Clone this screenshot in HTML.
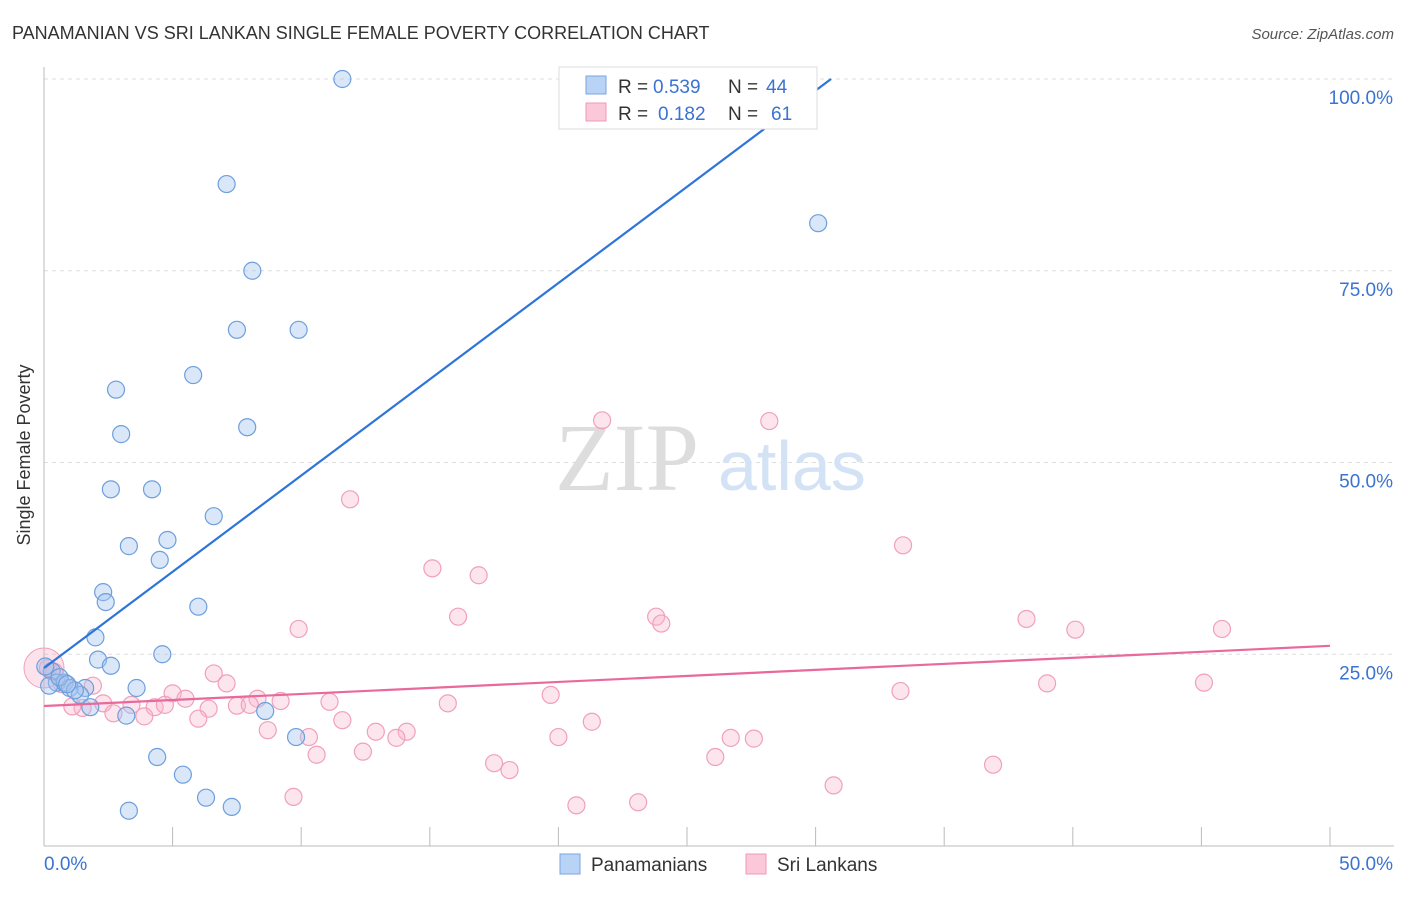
<!DOCTYPE html>
<html><head><meta charset="utf-8"><style>
body{margin:0;background:#fff;font-family:"Liberation Sans",sans-serif}
svg text{font-family:"Liberation Sans",sans-serif}
</style></head><body>
<svg width="1406" height="892" xmlns="http://www.w3.org/2000/svg">
<text x="12" y="39" font-size="18" fill="#333">PANAMANIAN VS SRI LANKAN SINGLE FEMALE POVERTY CORRELATION CHART</text>
<text x="1394" y="39" font-size="15" fill="#555" text-anchor="end" font-style="italic">Source: ZipAtlas.com</text>
<g id="grid"></g>
<text x="555" y="490" font-size="96" fill="#ddd" style="font-family:'Liberation Serif',serif">ZIP</text>
<text x="718" y="490" font-size="70" fill="#d3e2f5">atlas</text>
<g id="marks"></g>
<text x="30" y="455" font-size="18" fill="#333" text-anchor="middle" transform="rotate(-90 30 455)">Single Female Poverty</text>
<g>
<rect x="559" y="67" width="258" height="62" fill="#fff" stroke="#ddd"/>
<rect x="586" y="76" width="20" height="18" fill="#b8d3f5" stroke="#7aa6e0"/>
<rect x="586" y="103" width="20" height="18" fill="#fac8d8" stroke="#f09ab8"/>
<text x="618" y="93" font-size="19" fill="#333">R =</text>
<text x="653" y="93" font-size="19" fill="#3a73d0">0.539</text>
<text x="728" y="93" font-size="19" fill="#333">N =</text>
<text x="766" y="93" font-size="19" fill="#3a73d0">44</text>
<text x="618" y="120" font-size="19" fill="#333">R =</text>
<text x="658" y="120" font-size="19" fill="#3a73d0">0.182</text>
<text x="728" y="120" font-size="19" fill="#333">N =</text>
<text x="771" y="120" font-size="19" fill="#3a73d0">61</text>
</g>
<g>
<rect x="560" y="854" width="20" height="20" fill="#b8d3f5" stroke="#7aa6e0"/>
<text x="591" y="871" font-size="19" fill="#333">Panamanians</text>
<rect x="746" y="854" width="20" height="20" fill="#fac8d8" stroke="#f09ab8"/>
<text x="777" y="871" font-size="19" fill="#333">Sri Lankans</text>
</g>
</svg>
<script>
const yTicks=[25,50,75,100];
const yTickLabels=["25.0%","50.0%","75.0%","100.0%"];
const xTickLabels=["0.0%","50.0%"];
const blueX=[11.6,7.1,30.1,8.1,7.5,9.9,5.8,2.8,3.0,7.9,2.6,4.2,6.6,3.3,4.8,4.5,2.3,2.4,6.0,2.0,4.6,2.1,2.6,0.3,0.5,0.2,0.8,1.0,1.6,3.6,1.4,1.8,3.2,8.6,9.8,4.4,5.4,6.3,7.3,3.3,0.6,0.05,1.2,0.9];
const blueY=[100,86.3,81.2,75,67.3,67.3,61.4,59.5,53.7,54.6,46.5,46.5,43,39.1,39.9,37.3,33.1,31.8,31.2,27.2,25.0,24.3,23.5,22.8,21.3,20.9,21.3,20.6,20.6,20.6,19.7,18.1,17,17.6,14.2,11.6,9.3,6.3,5.1,4.6,22,23.4,20.3,21.1];
const pinkX=[21.7,28.2,11.9,33.4,15.1,16.9,16.1,23.8,24.0,9.9,38.2,40.1,45.8,6.6,7.1,39.0,45.1,33.3,19.7,5.0,5.5,1.9,0.7,0.15,0.4,8.3,9.2,7.5,8.0,11.1,15.7,6.4,4.3,4.7,3.4,2.3,1.5,2.7,3.9,6.0,11.6,21.3,8.7,12.9,14.1,13.7,10.3,20.0,26.7,27.6,10.6,12.4,26.1,17.5,18.1,36.9,30.7,9.7,23.1,20.7,1.1];
const pinkY=[55.5,55.4,45.2,39.2,36.2,35.3,29.9,29.9,29,28.3,29.6,28.2,28.3,22.5,21.2,21.2,21.3,20.2,19.7,19.9,19.2,20.9,21.1,23.2,22.7,19.2,18.9,18.3,18.4,18.8,18.6,17.9,18.1,18.4,18.4,18.6,18,17.3,16.9,16.6,16.4,16.2,15.1,14.9,14.9,14.1,14.2,14.2,14.1,14,11.9,12.3,11.6,10.8,9.9,10.6,7.9,6.4,5.7,5.3,18.2];
const blueLine=[[0,23.2],[30.6,100]];
const pinkLine=[[0,18.25],[50,26.1]];
const X=v=>44+v/50*1286, Y=v=>846-v/100*767;
const NS="http://www.w3.org/2000/svg";
const grid=document.getElementById('grid'), marks=document.getElementById('marks');
function mk(tag,at,parent){const e=document.createElementNS(NS,tag);for(const k in at)e.setAttribute(k,at[k]);parent.appendChild(e);return e;}
yTicks.forEach((t,i)=>{
 const l=mk('line',{x1:44,x2:1394,y1:Y(t),y2:Y(t),stroke:'#ddd','stroke-dasharray':'4,4'},grid);
 
 
 const tx=mk('text',{x:1393,y:Y(t)+25,'font-size':19,fill:'#3a73d0','text-anchor':'end'},grid);
 tx.textContent=yTickLabels[i];
 
 
});
const ax=mk('line',{x1:44,x2:1394,y1:846,y2:846,stroke:'#bbb'},grid);


const ay=mk('line',{x1:44,x2:44,y1:67,y2:846,stroke:'#bbb'},grid);


for(let i=0;i<=10;i++){const t=mk('line',{x1:X(i*5),x2:X(i*5),y1:827,y2:846,stroke:'#bbb'},grid);
 
 }
[[44,'start'],[1393,'end']].forEach((d,i)=>{const t=mk('text',{x:d[0],y:870,'font-size':19,fill:'#3a73d0','text-anchor':d[1]},grid);t.textContent=xTickLabels[i];
 
 });
const big=mk('circle',{cx:X(0),cy:Y(23.2),r:20,fill:'rgba(245,160,190,0.3)',stroke:'#f0a0bb'},marks);


pinkX.forEach((v,i)=>{const c=mk('circle',{cx:X(v),cy:Y(pinkY[i]),r:8.5,fill:'rgba(248,180,204,0.35)',stroke:'#f0a0bb','stroke-width':1.2},marks);
 
 });
blueX.forEach((v,i)=>{const c=mk('circle',{cx:X(v),cy:Y(blueY[i]),r:8.5,fill:'rgba(160,195,240,0.4)',stroke:'#6e9fdc','stroke-width':1.2},marks);
 
 });
const bl=mk('line',{x1:X(blueLine[0][0]),y1:Y(blueLine[0][1]),x2:X(blueLine[1][0]),y2:Y(blueLine[1][1]),stroke:'#2f74d8','stroke-width':2.2},marks);


const pl=mk('line',{x1:X(pinkLine[0][0]),y1:Y(pinkLine[0][1]),x2:X(pinkLine[1][0]),y2:Y(pinkLine[1][1]),stroke:'#e8699a','stroke-width':2.2},marks);


</script>
</body></html>
